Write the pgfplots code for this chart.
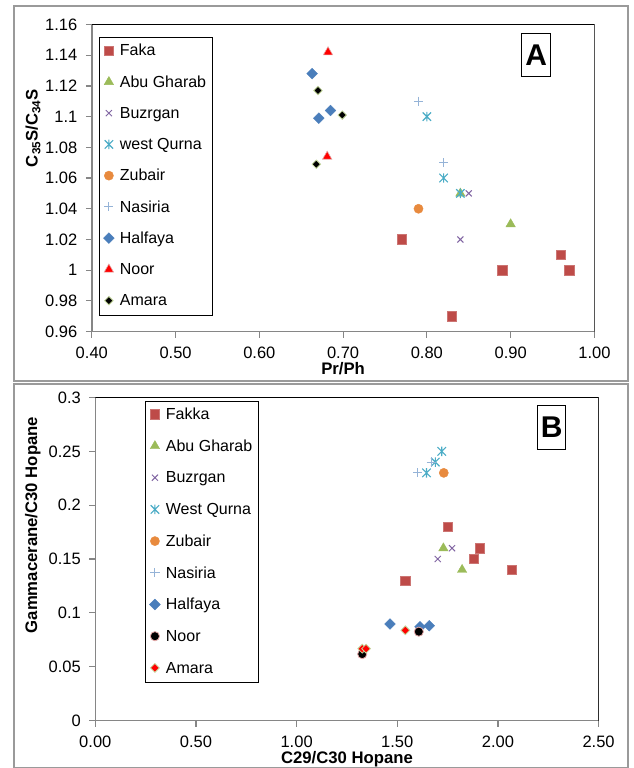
\documentclass[border=0pt]{standalone}
\usepackage{pgfplots}
\pgfplotsset{compat=1.18}
\usepackage{fontspec}
\setmainfont{Liberation Sans}
\definecolor{cfaka}{HTML}{BE4B48}
\definecolor{cfakab}{HTML}{CC7573}
\definecolor{cabu}{HTML}{9BBB59}
\definecolor{cbuz}{HTML}{8064A2}
\definecolor{cwq}{HTML}{4BACC6}
\definecolor{czub}{HTML}{E88A3E}
\definecolor{cnas}{HTML}{95B3D7}
\definecolor{chalf}{HTML}{4A7EBB}
\definecolor{cpink}{HTML}{E6A9A8}
\definecolor{cgreenb}{HTML}{C3D69B}
\definecolor{caxis}{HTML}{868686}
\definecolor{cframe}{HTML}{9A9A9A}
\pgfdeclareplotmark{xstar}{%
  \pgfpathmoveto{\pgfqpoint{-0.9\pgfplotmarksize}{-0.9\pgfplotmarksize}}%
  \pgfpathlineto{\pgfqpoint{0.9\pgfplotmarksize}{0.9\pgfplotmarksize}}%
  \pgfpathmoveto{\pgfqpoint{-0.9\pgfplotmarksize}{0.9\pgfplotmarksize}}%
  \pgfpathlineto{\pgfqpoint{0.9\pgfplotmarksize}{-0.9\pgfplotmarksize}}%
  \pgfpathmoveto{\pgfqpoint{0pt}{-\pgfplotmarksize}}%
  \pgfpathlineto{\pgfqpoint{0pt}{\pgfplotmarksize}}%
  \pgfusepathqstroke}
\pgfdeclareplotmark{sqdiamond}{%
  \pgfpathmoveto{\pgfqpoint{0pt}{\pgfplotmarksize}}%
  \pgfpathlineto{\pgfqpoint{\pgfplotmarksize}{0pt}}%
  \pgfpathlineto{\pgfqpoint{0pt}{-\pgfplotmarksize}}%
  \pgfpathlineto{\pgfqpoint{-\pgfplotmarksize}{0pt}}%
  \pgfpathclose\pgfusepathqfillstroke}
\pgfplotsset{
  mypanel/.style={
    scale only axis, anchor=south west,
    /pgf/number format/assume math mode=true,
    axis line style={draw=caxis, line width=1.5pt},
    tick pos=left, tick align=outside,
    major tick length=6pt,
    major tick style={draw=caxis, line width=1.2pt},
    ticklabel style={font=\fontsize{16.5}{18}\selectfont},
    xticklabel style={yshift=-6pt, /pgf/number format/.cd, fixed, fixed zerofill, precision=2},
    yticklabel style={xshift=-5pt, /pgf/number format/.cd, fixed, precision=2},
    legend cell align=left,
    legend image code/.code={\path[draw=none, fill=none] (0pt,-3pt) rectangle (14pt,5pt);
      \draw[mark repeat=2,mark phase=2] plot coordinates {(0pt,1pt)(5pt,1pt)(10pt,1pt)};},
    legend style={font=\fontsize{16}{18}\selectfont, draw=black, line width=1pt,
      inner sep=4pt, anchor=north west,
      nodes={inner sep=2pt, text height=12pt, text depth=3.5pt}},
    sfaka/.style={only marks, mark=square*, mark size=4.7pt, mark options={fill=cfaka, draw=cfakab, line width=0.6pt}},
    sabu/.style={only marks, mark=triangle*, mark size=5.4pt, mark options={fill=cabu, draw=cabu, line width=0.4pt}},
    sbuz/.style={only marks, mark=x, mark size=4.3pt, mark options={draw=cbuz, line width=1pt}},
    swq/.style={only marks, mark=xstar, mark size=4.7pt, mark options={draw=cwq, line width=1.1pt}},
    szub/.style={only marks, mark=*, mark size=4.6pt, mark options={fill=czub, draw=czub, line width=0.4pt}},
    snas/.style={only marks, mark=+, mark size=4.6pt, mark options={draw=cnas, line width=1pt}},
    shalf/.style={only marks, mark=sqdiamond, mark size=5.4pt, mark options={fill=chalf, draw=chalf, line width=0.4pt}},
  }
}
\begin{document}
\begin{tikzpicture}
\useasboundingbox (0,0) rectangle (633pt,768pt);
\draw[cframe, line width=1.2pt] (14pt,387pt) rectangle (628pt,762pt);
\draw[cframe, line width=1.2pt] (14pt,0.6pt) rectangle (628pt,384pt);
% ---------- Panel A ----------
\begin{axis}[mypanel,
  at={(91.8pt,436.4pt)}, width=502.6pt, height=307.1pt,
  xmin=0.4, xmax=1.0, ymin=0.96, ymax=1.16,
  xtick={0.4,0.5,0.6,0.7,0.8,0.9,1.0},
  ytick={0.96,0.98,1,1.02,1.04,1.06,1.08,1.1,1.12,1.14,1.16},
  xlabel={Pr/Ph}, ylabel={C\textsubscript{35}S/C\textsubscript{34}S},
  every axis x label/.style={at={(axis description cs:0.5,-0.122)}, anchor=center, font=\bfseries\fontsize{16.7}{18}\selectfont},
  every axis y label/.style={at={(axis description cs:-0.117,0.663)}, rotate=90, anchor=center, font=\bfseries\fontsize{16.7}{18}\selectfont},
  legend style={at={(axis description cs:0.0143,0.958)}, row sep=11.75pt},
]
\addplot[sfaka] coordinates {(0.77,1.02) (0.83,0.97) (0.89,1.00) (0.96,1.01) (0.97,1.00)};
\addlegendentry{Faka}
\addplot[sabu] coordinates {(0.84,1.05) (0.90,1.03)};
\addlegendentry{Abu Gharab}
\addplot[sbuz] coordinates {(0.85,1.05) (0.84,1.02)};
\addlegendentry{Buzrgan}
\addplot[swq] coordinates {(0.80,1.10) (0.82,1.06) (0.84,1.05)};
\addlegendentry{west Qurna}
\addplot[szub] coordinates {(0.79,1.04)};
\addlegendentry{Zubair}
\addplot[snas] coordinates {(0.79,1.11) (0.82,1.07)};
\addlegendentry{Nasiria}
\addplot[shalf] coordinates {(0.663,1.128) (0.685,1.104) (0.671,1.099)};
\addlegendentry{Halfaya}
\addplot[only marks, mark=triangle*, mark size=5.4pt, mark options={fill=red, draw=cpink, line width=0.6pt}] coordinates {(0.682,1.142) (0.681,1.074)};
\addlegendentry{Noor}
\addplot[only marks, mark=sqdiamond, mark size=4.2pt, mark options={fill=black, draw=cgreenb, line width=0.8pt}] coordinates {(0.670,1.117) (0.699,1.101) (0.668,1.069)};
\addlegendentry{Amara}
\draw[black, line width=1.3pt] (rel axis cs:0,1) -- (rel axis cs:1,1) -- (rel axis cs:1,0);
\node[draw=black, line width=1pt, minimum width=29pt, minimum height=43pt, inner sep=0pt,
  font=\bfseries\fontsize{30}{30}\selectfont] at (rel axis cs:0.884,0.901) {A};
\end{axis}
% ---------- Panel B ----------
\begin{axis}[mypanel,
  at={(95.3pt,47.5pt)}, width=503.3pt, height=323pt,
  xmin=0, xmax=2.5, ymin=0, ymax=0.3,
  xtick={0,0.5,1,1.5,2,2.5},
  ytick={0,0.05,0.1,0.15,0.2,0.25,0.3},
  xlabel={C29/C30 Hopane}, ylabel={Gammacerane/C30 Hopane},
  every axis x label/.style={at={(axis description cs:0.5,-0.121)}, anchor=center, font=\bfseries\fontsize{16.7}{18}\selectfont},
  every axis y label/.style={at={(axis description cs:-0.124,0.605)}, rotate=90, anchor=center, font=\bfseries\fontsize{16.7}{18}\selectfont},
  legend style={at={(axis description cs:0.0988,0.989)}, row sep=12.2pt},
]
\addplot[sfaka] coordinates {(1.751,0.18) (1.91,0.16) (1.88,0.15) (2.07,0.14) (1.54,0.13)};
\addlegendentry{Fakka}
\addplot[sabu] coordinates {(1.729,0.16) (1.822,0.14)};
\addlegendentry{Abu Gharab}
\addplot[sbuz] coordinates {(1.772,0.16) (1.701,0.15)};
\addlegendentry{Buzrgan}
\addplot[swq] coordinates {(1.721,0.25) (1.689,0.24) (1.645,0.23)};
\addlegendentry{West Qurna}
\addplot[szub] coordinates {(1.731,0.23)};
\addlegendentry{Zubair}
\addplot[snas] coordinates {(1.668,0.24) (1.602,0.23)};
\addlegendentry{Nasiria}
\addplot[shalf] coordinates {(1.464,0.0896) (1.613,0.087) (1.659,0.088)};
\addlegendentry{Halfaya}
\addplot[only marks, mark=*, mark size=4.6pt, mark options={fill=black, draw=cpink, line width=0.8pt}] coordinates {(1.326,0.0617) (1.607,0.0825)};
\addlegendentry{Noor}
\addplot[only marks, mark=sqdiamond, mark size=4.4pt, mark options={fill=red, draw=cgreenb, line width=0.8pt}] coordinates {(1.326,0.0667) (1.345,0.0667) (1.54,0.0838)};
\addlegendentry{Amara}
\draw[black, line width=1.3pt] (rel axis cs:0,1) -- (rel axis cs:1,1) -- (rel axis cs:1,0);
\node[draw=black, line width=1pt, minimum width=28pt, minimum height=44pt, inner sep=0pt,
  font=\bfseries\fontsize{30}{30}\selectfont] at (rel axis cs:0.9066,0.907) {B};
\end{axis}
\end{tikzpicture}
\end{document}
